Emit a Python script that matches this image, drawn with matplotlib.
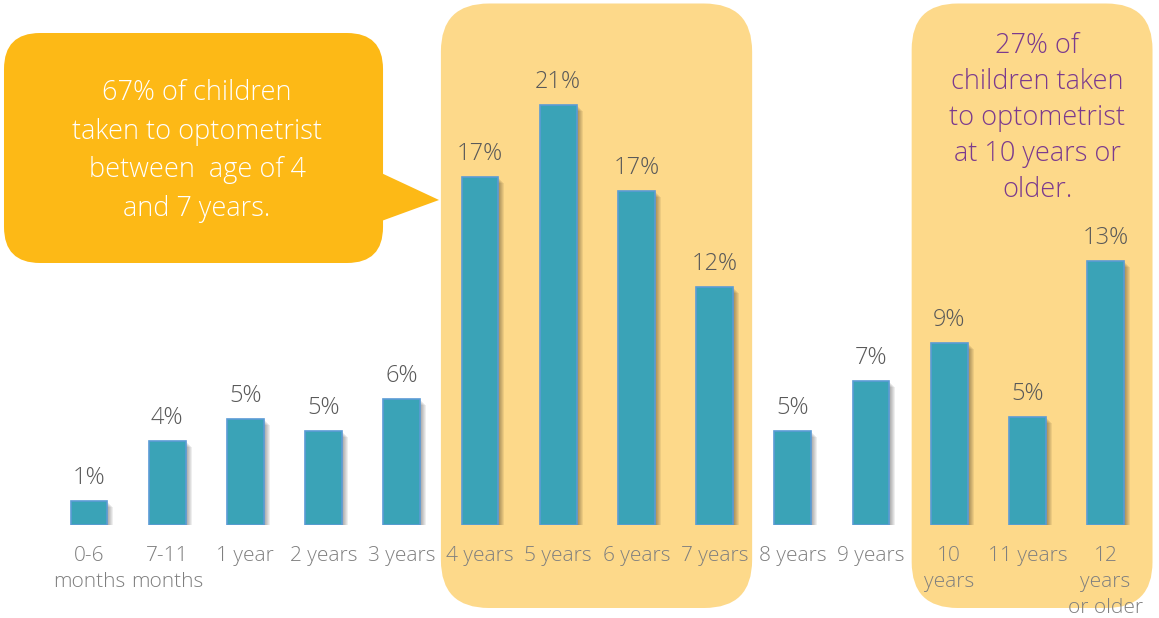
import numpy as np
import matplotlib
matplotlib.use("Agg")
import matplotlib.pyplot as plt
from matplotlib.patches import FancyBboxPatch, Polygon

# age at first optometrist visit, share of children (%)
ages = ["0-6\nmonths", "7-11\nmonths", "1 year", "2 years", "3 years",
        "4 years", "5 years", "6 years", "7 years", "8 years", "9 years",
        "10\nyears", "11 years", "12\nyears\nor older"]
share = [1.2, 4.2, 5.3, 4.7, 6.3, 17.4, 21.0, 16.7, 11.9, 4.7, 7.2, 9.1, 5.4, 13.2]

note_left = "67% of children\ntaken to optometrist\nbetween  age of 4\nand 7 years."
note_right = "27% of\nchildren taken\nto optometrist\nat 10 years or\nolder."

plt.rcParams["font.family"] = ["Open Sans", "DejaVu Sans"]
FW = 300

W, H = 1159, 618
fig = plt.figure(figsize=(W / 100, H / 100), dpi=100)
base_px = 525            # baseline, pixels from top
px_x, px_y = 78.2, 20.0  # pixels per category / per percent
x0_px = 89
ax = fig.add_axes([0, (H - base_px) / H, 1, base_px / H])
ax.set_xlim(-x0_px / px_x, (W - x0_px) / px_x)
ax.set_ylim(0, base_px / px_y)
for s in ax.spines.values():
    s.set_visible(False)
ax.set_yticks([])

x = np.arange(len(ages))
vals = np.array(share)

# pale highlight panels behind the 4-7 and 10+ groups
pale = "#FDD98A"
def panel(xa, xb, ytop_px, ybot_px, r_px, color, z=0):
    yb = (base_px - ybot_px) / px_y
    yt = (base_px - ytop_px) / px_y
    p = FancyBboxPatch((xa, yb), xb - xa, yt - yb,
                       boxstyle=f"round,pad=0,rounding_size={r_px / px_x}",
                       mutation_aspect=px_x / px_y, fc=color, ec="none",
                       zorder=z, clip_on=False)
    ax.add_patch(p)

panel(4.5, 8.48, 3.5, 608, 48, pale)
panel(10.52, 13.6, 3.5, 608, 46, pale)

# speech bubble
orange = "#FDB916"
panel(-1.087, 3.76, 33, 263, 36, orange, z=1)
tri = Polygon([(3.6, (base_px - 168) / px_y), (4.476, (base_px - 200) / px_y),
               (3.6, (base_px - 225) / px_y)], closed=True, fc=orange, ec="none",
              zorder=1, clip_on=False)
ax.add_patch(tri)

# soft drop shadow to the lower right of each bar
for k in range(1, 7):
    ax.bar(x + k / px_x, vals - k / px_y, width=0.47, color="black",
           alpha=0.065, linewidth=0, zorder=2)

ax.bar(x, vals, width=0.47, color="#3AA3B7", edgecolor="#5B9BD5",
       linewidth=1.2, zorder=3)

for xi, v in zip(x, vals):
    ax.annotate(f"{v:.0f}%", (xi, v), xytext=(0, 12.5), textcoords="offset points",
                ha="center", va="baseline", fontsize=17, color="#595959",
                fontweight=FW, zorder=4)

ax.set_xticks(x)
ax.set_xticklabels(ages, fontsize=15, color="#7F7F7F", fontweight=FW,
                   linespacing=1.4)
ax.tick_params(axis="x", length=0, pad=15)

ax.text((197 - x0_px) / px_x, (base_px - 151) / px_y, note_left, ha="center",
        va="center", fontsize=19.5, color="white", fontweight=FW,
        linespacing=1.5, zorder=4)
ax.text((1037 - x0_px) / px_x, (base_px - 118) / px_y, note_right, ha="center",
        va="center", fontsize=19.5, color="#7B3A8E", fontweight=FW,
        linespacing=1.38, zorder=4)

fig.savefig("out.png", dpi=100)
